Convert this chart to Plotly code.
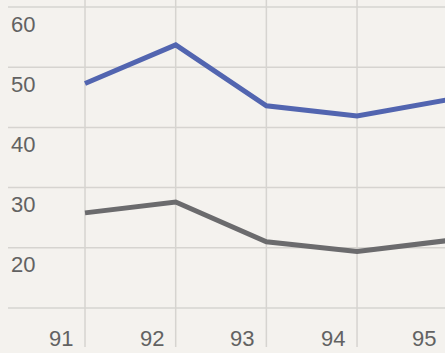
import plotly.graph_objects as go

years = [91, 92, 93, 94, 95]
year_labels = ["91", "92", "93", "94", "95"]
blue_values = [47.3, 53.7, 43.6, 41.9, 44.6]
gray_values = [25.8, 27.6, 21.0, 19.4, 21.2]
y_ticks = [60, 50, 40, 30, 20, 10]
y_tick_labels = ["60", "50", "40", "30", "20", ""]

W, H = 445, 353
x_range = [90.0625, 94.97]
y_range = [2.52, 61.163]

bg = "#f4f2ee"
grid = "#d6d4d0"
txt = "#626262"
font = "Liberation Sans, Arial, sans-serif"


def x_paper(v):
    return (v - x_range[0]) / (x_range[1] - x_range[0])


fig = go.Figure()

fig.add_trace(go.Scatter(x=years, y=gray_values, mode="lines",
                         line=dict(color="#6b6b6d", width=5), cliponaxis=True,
                         hoverinfo="skip", showlegend=False))
fig.add_trace(go.Scatter(x=years, y=blue_values, mode="lines",
                         line=dict(color="#5265b0", width=5), cliponaxis=True,
                         hoverinfo="skip", showlegend=False))

shapes = []
for v in y_ticks:
    shapes.append(dict(type="line", xref="paper", yref="y", x0=8 / W, x1=1, y0=v, y1=v,
                       line=dict(color=grid, width=1.5), layer="below"))
for yr in years:
    shapes.append(dict(type="line", xref="x", yref="paper", x0=yr, x1=yr, y0=6 / H, y1=1,
                       line=dict(color=grid, width=1.5), layer="below"))

annotations = []
for v, lab in zip(y_ticks, y_tick_labels):
    if lab:
        annotations.append(dict(x=9 / W, xref="paper", y=v, yref="y", text=lab,
                                showarrow=False, xanchor="left", yanchor="middle",
                                yshift=-17, font=dict(family=font, size=22, color=txt)))
for yr, lab in zip(years, year_labels):
    annotations.append(dict(x=x_paper(yr), xref="paper", y=10, yref="y", text=lab,
                            showarrow=False, xanchor="right", yanchor="middle",
                            xshift=-10, yshift=-31, font=dict(family=font, size=22, color=txt)))

fig.update_layout(
    width=W, height=H,
    margin=dict(l=0, r=0, t=0, b=0),
    paper_bgcolor=bg, plot_bgcolor=bg,
    xaxis=dict(range=x_range, visible=False, fixedrange=True),
    yaxis=dict(range=y_range, visible=False, fixedrange=True),
    shapes=shapes, annotations=annotations,
)

fig.write_html("out.html", config={"displayModeBar": False})
